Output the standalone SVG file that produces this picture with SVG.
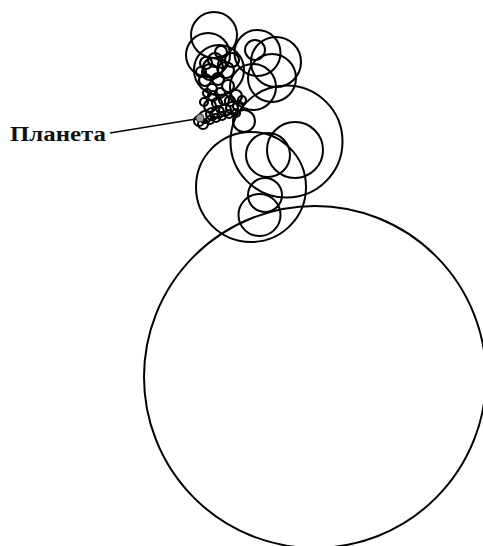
<svg xmlns="http://www.w3.org/2000/svg" width="483" height="546" viewBox="0 0 483 546">
<style>
.c{fill:none;stroke:#000;stroke-width:2}
.s{fill:none;stroke:#000;stroke-width:2.2}
.lbl{font-family:"Liberation Serif",serif;font-weight:bold;font-size:20px;fill:#111}
</style>
<rect width="483" height="546" fill="#fff"/>
<g id="epicycles">
<circle class="c" cx="315" cy="377" r="171"/>
<circle class="c" cx="259.5" cy="215" r="21"/>
<circle class="c" cx="265" cy="195" r="17"/>
<circle class="c" cx="251" cy="187" r="55"/>
<circle class="c" cx="295" cy="150" r="28"/>
<circle class="c" cx="268" cy="155" r="22"/>
<circle class="c" cx="286.5" cy="141.5" r="56"/>
<circle class="c" cx="244" cy="121" r="11"/>
<circle class="c" cx="214" cy="35" r="23"/>
<circle class="c" cx="208" cy="55" r="22"/>
<circle class="c" cx="257.5" cy="53" r="23"/>
<circle class="c" cx="276" cy="62" r="25"/>
<circle class="c" cx="255" cy="50" r="10"/>
<circle class="c" cx="253" cy="87" r="23"/>
<circle class="c" cx="272" cy="78" r="24"/>
<circle class="c" cx="219" cy="70" r="25"/>
<circle class="s" cx="213" cy="68" r="10"/>
<circle class="s" cx="210" cy="72" r="8"/>
<circle class="s" cx="215" cy="60" r="7"/>
<circle class="s" cx="205" cy="80" r="6"/>
<circle class="s" cx="218" cy="79" r="6"/>
<circle class="s" cx="226" cy="70" r="8"/>
<circle class="s" cx="221" cy="52" r="6"/>
<circle class="s" cx="232" cy="60" r="7"/>
<circle class="s" cx="206" cy="63" r="6"/>
<circle class="s" cx="228" cy="86" r="6"/>
<circle class="s" cx="212" cy="89" r="5"/>
<circle class="s" cx="207" cy="93" r="4"/>
<circle class="s" cx="213" cy="96" r="5"/>
<circle class="s" cx="220" cy="93" r="5"/>
<circle class="s" cx="210" cy="106" r="6"/>
<circle class="s" cx="204" cy="102" r="4"/>
<circle class="s" cx="217" cy="103" r="5"/>
<circle class="s" cx="224" cy="100" r="5"/>
<circle class="s" cx="230" cy="101" r="5"/>
<circle class="s" cx="205" cy="117" r="6"/>
<circle class="s" cx="199" cy="121" r="5"/>
<circle class="s" cx="212" cy="114" r="6"/>
<circle class="s" cx="218" cy="112" r="6"/>
<circle class="s" cx="225" cy="110" r="6"/>
<circle class="s" cx="232" cy="108" r="6"/>
<circle class="s" cx="238" cy="106" r="5"/>
<circle class="s" cx="203" cy="124" r="5"/>
<circle class="s" cx="210" cy="120" r="4"/>
<circle class="s" cx="216" cy="118" r="4"/>
<circle class="s" cx="222" cy="116" r="4"/>
<circle class="s" cx="229" cy="114" r="4"/>
<circle class="s" cx="236" cy="113" r="4"/>
<circle class="s" cx="236" cy="96" r="6"/>
<circle class="s" cx="242" cy="100" r="4"/>
<circle class="s" cx="201" cy="72" r="5"/>
<circle class="s" cx="222" cy="64" r="4"/>
</g>
<g id="planet">
<circle cx="200" cy="118" r="4" fill="#999" stroke="#333" stroke-width="1"/>
</g>
<g id="connectors">
<line x1="110" y1="133" x2="196" y2="119" stroke="#000" stroke-width="1.3"/>
</g>
<g id="label">
<text class="lbl" x="10" y="141" textLength="96" lengthAdjust="spacingAndGlyphs">Планета</text>
</g>
</svg>
